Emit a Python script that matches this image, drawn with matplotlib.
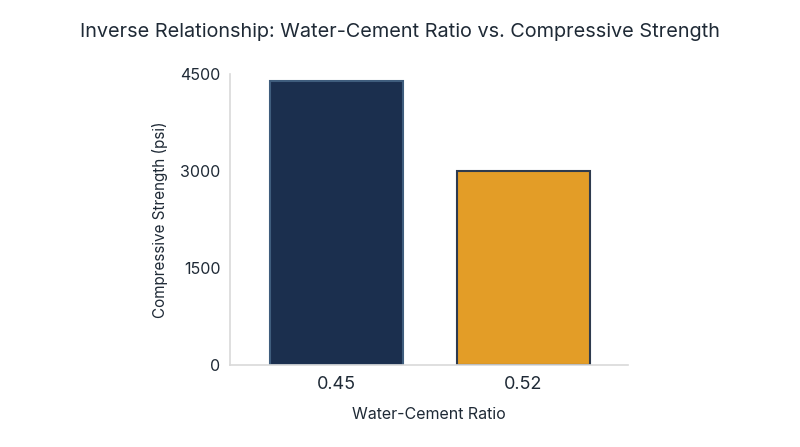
import matplotlib.pyplot as plt

plt.rcParams['font.family'] = ['Inter', 'DejaVu Sans']

ratios = ['0.45', '0.52']
strength = [4400, 3000]
bar_colors = ['#1b2f4e', '#e39d27']
edge_colors = ['#3f5d7d', '#2e3b4e']
yticks = [0, 1500, 3000, 4500]

fig = plt.figure(figsize=(8, 4.47), dpi=100)
ax = fig.add_axes([0.2875, 0.183, 0.4975, 0.651])

ax.bar(ratios, strength, width=0.71, color=bar_colors, edgecolor=edge_colors, linewidth=1.5)
ax.set_xlim(-0.57, 1.56)
ax.set_ylim(0, 4500)
ax.set_yticks(yticks)
ax.set_yticklabels([str(t) for t in yticks])

for side in ['top', 'right']:
    ax.spines[side].set_visible(False)
for side in ['left', 'bottom']:
    ax.spines[side].set_color('#d9d9d9')
    ax.spines[side].set_linewidth(1.2)
ax.tick_params(axis='both', length=0, colors='#1f2a36')
ax.tick_params(axis='x', labelsize=13, pad=8)
ax.tick_params(axis='y', labelsize=11.5, pad=7)

ax.set_xlabel('Water-Cement Ratio', fontsize=11.5, color='#1f2a36', labelpad=10)
ax.set_ylabel('Compressive Strength (psi)', fontsize=11, color='#1f2a36', labelpad=9)
fig.suptitle('Inverse Relationship: Water-Cement Ratio vs. Compressive Strength',
             fontsize=14.3, color='#1f2a36', y=0.948)

plt.savefig('out.png', dpi=100)
plt.close()
